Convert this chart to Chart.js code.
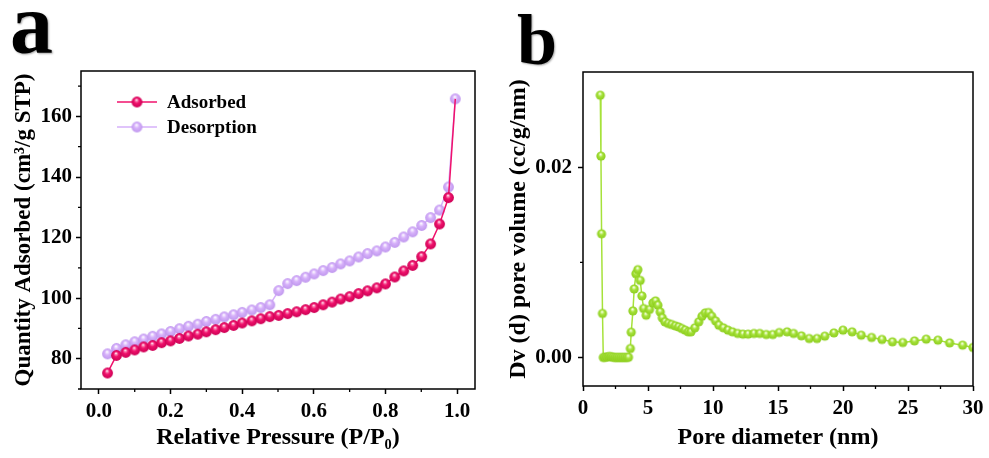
<!DOCTYPE html>
<html>
<head>
<meta charset="utf-8">
<script src="https://cdn.jsdelivr.net/npm/chart.js@4.4.1/dist/chart.umd.min.js"></script>
<style>
  html,body{margin:0;padding:0;background:#fff;}
  #wrap{position:relative;width:989px;height:458px;overflow:hidden;background:#fff;}
  canvas{position:absolute;top:0;}
  .lab{position:absolute;font-family:'Liberation Serif','Times New Roman',serif;font-weight:bold;line-height:1;color:#000;text-shadow:1px 1px 2px rgba(0,0,0,0.35);}
</style>
</head>
<body>
<div id="wrap">
  <canvas id="c1" width="490" height="458" style="left:0px"></canvas>
  <canvas id="c2" width="499" height="458" style="left:490px"></canvas>
  <div class="lab" style="left:10px;top:-19px;font-size:86px">a</div>
  <div class="lab" style="left:517px;top:4px;font-size:72px">b</div>
</div>
<script>
// ---------- DATA ----------
const pressure = [0.024,0.049,0.075,0.1,0.125,0.15,0.175,0.2,0.225,0.25,0.276,0.3,0.326,0.35,0.376,0.4,0.427,0.452,0.477,0.502,0.527,0.552,0.577,0.601,0.626,0.651,0.675,0.7,0.725,0.75,0.776,0.8,0.826,0.851,0.876,0.901,0.926,0.951,0.976,0.995];
const adsorbed = [75.3,81.1,82.1,82.9,83.9,84.4,85.3,85.9,86.7,87.5,88.1,88.9,89.6,90.3,91.0,91.8,92.5,93.2,93.9,94.3,94.9,95.5,96.2,96.9,97.8,98.7,99.7,100.5,101.5,102.4,103.4,104.7,107.0,109.0,110.8,113.7,117.9,124.5,133.2,165.8];
const desorption = [81.6,83.4,84.6,85.6,86.5,87.4,88.2,89.0,89.9,90.7,91.4,92.3,93.0,93.8,94.5,95.3,96.1,96.9,97.8,102.5,104.8,105.8,106.9,108.0,109.1,110.1,111.3,112.3,113.6,114.7,115.6,116.9,118.4,120.2,121.9,124.0,126.6,129.1,136.7,165.8];

const poreDiameter = [1.33,1.38,1.43,1.5,1.56,1.7,1.85,2.0,2.15,2.3,2.45,2.6,2.75,2.9,3.05,3.2,3.35,3.5,3.64,3.71,3.84,3.94,4.07,4.22,4.4,4.53,4.66,4.86,5.12,5.38,5.58,5.76,5.94,6.1,6.3,6.56,6.82,7.1,7.35,7.6,7.86,8.1,8.3,8.6,8.9,9.15,9.4,9.66,9.9,10.2,10.45,10.8,11.15,11.5,11.9,12.3,12.7,13.15,13.6,14.1,14.6,15.1,15.7,16.2,16.8,17.4,18.0,18.6,19.3,20.0,20.7,21.4,22.2,23.0,23.8,24.6,25.5,26.4,27.3,28.2,29.2,30.0];
const poreVolume = [0.02756,0.02116,0.0130,0.00462,0.0,0.00002,0.00005,0.0001,0.00008,0.00003,0.0,0.0,0.0,0.0,0.0,0.0,0.0,0.00002,0.00094,0.00265,0.00489,0.0072,0.0088,0.00923,0.0081,0.00647,0.00514,0.00444,0.00504,0.00573,0.00594,0.00549,0.00479,0.00416,0.00374,0.00357,0.00346,0.00332,0.00321,0.00304,0.00287,0.00269,0.00269,0.00311,0.00374,0.00433,0.00468,0.00472,0.00433,0.00384,0.00339,0.00311,0.00287,0.00269,0.00252,0.00245,0.00245,0.00252,0.00252,0.00241,0.00241,0.00262,0.00269,0.00252,0.00227,0.00199,0.00199,0.00224,0.00258,0.00287,0.00269,0.00234,0.0021,0.00189,0.00164,0.00157,0.00174,0.00192,0.00182,0.00153,0.00129,0.00105];

const xTicksA = [0.0,0.2,0.4,0.6,0.8,1.0];
const xMinorA = [0.1,0.3,0.5,0.7,0.9];
const yTicksA = [80,100,120,140,160];
const yMinorA = [70,90,110,130,150,170];
const xTicksB = [0,5,10,15,20,25,30];
const xMinorB = [2.5,7.5,12.5,17.5,22.5,27.5];
const yTicksB = [0.00,0.02];
const yMinorB = [0.01];

// ---------- STYLE ----------
const FONT = "'Liberation Serif','Times New Roman',serif";
Chart.defaults.font.family = FONT;
Chart.defaults.font.weight = 'bold';
Chart.defaults.color = '#000';

function sphere(r, hi, base, edge){
  const s = Math.ceil(2*r+2);
  const c = document.createElement('canvas');
  c.width = s; c.height = s;
  const g = c.getContext('2d');
  const cx = s/2, cy = s/2;
  const gr = g.createRadialGradient(cx - 0.1*r, cy - 0.42*r, 0.04*r, cx, cy, r);
  gr.addColorStop(0, '#ffffff');
  gr.addColorStop(0.16, hi);
  gr.addColorStop(0.45, base);
  gr.addColorStop(1, edge);
  g.fillStyle = gr;
  g.beginPath(); g.arc(cx, cy, r, 0, Math.PI*2); g.fill();
  return c;
}
const PINK = 'rgb(240,18,108)';
const LAV = 'rgb(214,176,250)';
const GREEN = 'rgb(166,226,58)';
const sprPink = sphere(5.4, 'rgb(250,140,185)', PINK, 'rgb(205,0,85)');
const sprLav = sphere(5.4, 'rgb(240,225,255)', LAV, 'rgb(192,152,238)');
const sprGreen = sphere(4.6, 'rgb(225,250,180)', GREEN, 'rgb(140,205,30)');

const framePlugin = {
  id: 'frame',
  afterDraw(chart, args, opts){
    const {ctx, chartArea:a, scales} = chart;
    ctx.save();
    ctx.strokeStyle = '#000';
    ctx.lineWidth = 1.5;
    ctx.strokeRect(a.left, a.top, a.right - a.left, a.bottom - a.top);
    ctx.lineWidth = 1.3;
    ctx.beginPath();
    (opts.xMinor || []).forEach(v => { const x = scales.x.getPixelForValue(v); ctx.moveTo(x, a.bottom); ctx.lineTo(x, a.bottom + 3); });
    (opts.yMinor || []).forEach(v => { const y = scales.y.getPixelForValue(v); ctx.moveTo(a.left, y); ctx.lineTo(a.left - 3, y); });
    ctx.stroke();
    if (opts.legend) {
      chart.data.datasets.forEach((ds, i) => {
        const y = a.top + 31 + i * 25;
        ctx.strokeStyle = ds.borderColor;
        ctx.lineWidth = 1.6;
        ctx.beginPath(); ctx.moveTo(117, y); ctx.lineTo(157, y); ctx.stroke();
        const sp = ds.legendSprite;
        ctx.drawImage(sp, 137 - sp.width/2, y - sp.height/2);
        ctx.fillStyle = '#000';
        ctx.font = 'bold 19px ' + FONT;
        ctx.textBaseline = 'middle';
        ctx.textAlign = 'left';
        ctx.fillText(ds.label, 167, y + 1);
      });
    }
    ctx.restore();
  }
};

function axisCommon(){
  return {
    type: 'linear',
    grid: {display: true, drawOnChartArea: false, drawTicks: true, tickLength: 5, tickWidth: 1.5, tickColor: '#000'},
    border: {display: false}
  };
}

// ---------- CHART A ----------
const lastIdx = pressure.length - 1;
new Chart(document.getElementById('c1'), {
  type: 'line',
  data: {
    datasets: [
      {label: 'Adsorbed', data: pressure.map((p,i)=>({x:p, y:adsorbed[i]})), borderColor: PINK, borderWidth: 1.5,
       pointStyle: ctx => ctx.dataIndex === lastIdx ? false : sprPink, legendSprite: sprPink, tension: 0},
      {label: 'Desorption', data: pressure.map((p,i)=>({x:p, y:desorption[i]})), borderColor: LAV, borderWidth: 1.5,
       pointStyle: sprLav, legendSprite: sprLav, tension: 0}
    ]
  },
  options: {
    responsive: false, animation: false, devicePixelRatio: 1,
    layout: {padding: {left: 0, top: 71, right: 15, bottom: 0}},
    plugins: {legend: {display: false}, tooltip: {enabled: false},
      frame: {xMinor: xMinorA, yMinor: yMinorA, legend: true}},
    scales: {
      x: Object.assign(axisCommon(), {
        min: -0.05, max: 1.05,
        afterBuildTicks: s => { s.ticks = xTicksA.map(v => ({value: v})); },
        afterFit: s => { s.height = 69; },
        ticks: {font: {size: 21, weight: 'bold'}, color: '#000', padding: 5, maxRotation: 0, autoSkip: false, callback: v => Number(v).toFixed(1)},
        title: {display: true, text: 'Relative Pressure (P/P\u2080)', font: {size: 24, weight: 'bold'}, color: '#000', padding: {top: 0, bottom: 6}}
      }),
      y: Object.assign(axisCommon(), {
        min: 70, max: 175,
        afterBuildTicks: s => { s.ticks = yTicksA.map(v => ({value: v})); },
        afterFit: s => { s.width = 81; },
        ticks: {font: {size: 21, weight: 'bold'}, color: '#000', padding: 4, autoSkip: false, callback: v => String(v)},
        title: {display: true, text: 'Quantity Adsorbed (cm\u00B3/g STP)', font: {size: 23, weight: 'bold'}, color: '#000', padding: {top: 10, bottom: 0}}
      })
    }
  },
  plugins: [framePlugin]
});

// ---------- CHART B ----------
new Chart(document.getElementById('c2'), {
  type: 'line',
  data: {
    datasets: [
      {label: 'Pore volume', data: poreDiameter.map((d,i)=>({x:d, y:poreVolume[i]})), borderColor: GREEN, borderWidth: 1.5,
       pointStyle: sprGreen, tension: 0}
    ]
  },
  options: {
    responsive: false, animation: false, devicePixelRatio: 1,
    layout: {padding: {left: 0, top: 72, right: 16, bottom: 0}},
    plugins: {legend: {display: false}, tooltip: {enabled: false},
      frame: {xMinor: xMinorB, yMinor: yMinorB, legend: false}},
    scales: {
      x: Object.assign(axisCommon(), {
        min: 0, max: 30,
        afterBuildTicks: s => { s.ticks = xTicksB.map(v => ({value: v})); },
        afterFit: s => { s.height = 72; },
        ticks: {font: {size: 21, weight: 'bold'}, color: '#000', padding: 5, maxRotation: 0, autoSkip: false, callback: v => String(v)},
        title: {display: true, text: 'Pore diameter (nm)', font: {size: 24, weight: 'bold'}, color: '#000', padding: {top: 0, bottom: 6}}
      }),
      y: Object.assign(axisCommon(), {
        min: -0.003, max: 0.03,
        afterBuildTicks: s => { s.ticks = yTicksB.map(v => ({value: v})); },
        afterFit: s => { s.width = 93; },
        ticks: {font: {size: 21, weight: 'bold'}, color: '#000', padding: 6, autoSkip: false, callback: v => Number(v).toFixed(2)},
        title: {display: true, text: 'Dv (d) pore volume (cc/g/nm)', font: {size: 24, weight: 'bold'}, color: '#000', padding: {top: 14, bottom: 0}}
      })
    }
  },
  plugins: [framePlugin]
});
</script>
</body>
</html>
